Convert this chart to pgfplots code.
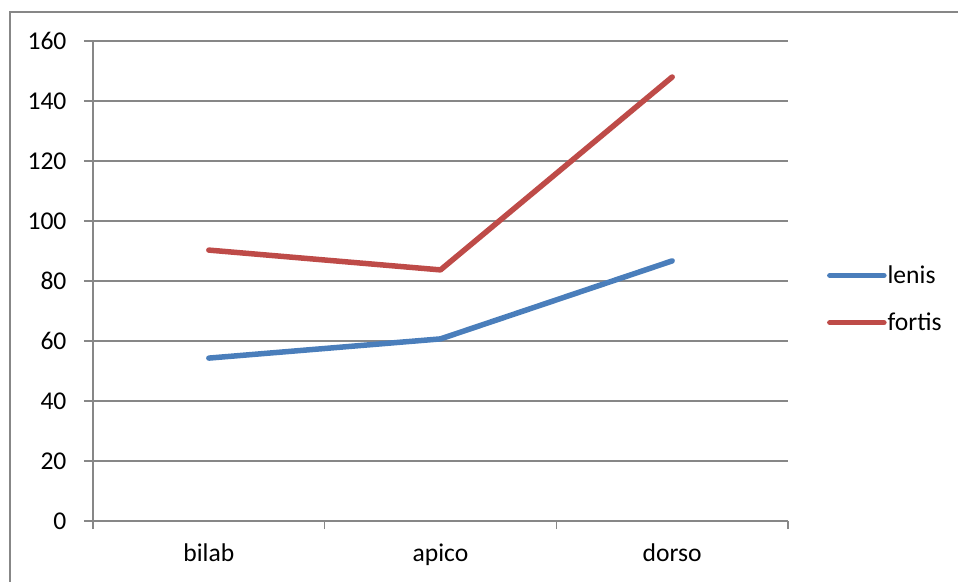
\documentclass[border=0pt]{standalone}
\usepackage{pgfplots}
\pgfplotsset{compat=1.18}
\usepackage{fontspec}
\setmainfont{Carlito}
\definecolor{gridgray}{HTML}{878787}
\definecolor{serblue}{HTML}{4A7EBB}
\definecolor{serred}{HTML}{BE4B48}
\begin{document}
\begin{tikzpicture}
\useasboundingbox (0pt,0pt) rectangle (958pt,581pt);
\draw[gridgray, line width=2pt] (10pt,-20pt) -- (10pt,569pt) -- (980pt,569pt);
\begin{axis}[
  at={(93pt,60pt)}, anchor=south west,
  scale only axis, width=695pt, height=480pt,
  xmin=-0.5, xmax=2.5, ymin=0, ymax=160,
  axis lines=left, axis line style={-, gridgray, line width=1.3pt},
  xtick={0,1,2}, xticklabels={bilab,apico,dorso},
  major x tick style={draw=none},
  minor xtick={-0.5,0.5,1.5,2.5},
  minor x tick style={gridgray, line width=1.3pt},
  minor tick length=8pt,
  ytick={0,20,...,160},
  major tick length=9pt,
  y tick style={gridgray, line width=1.3pt},
  tick align=outside,
  ymajorgrids, grid style={gridgray, line width=1.3pt},
  /pgf/number format/assume math mode=true,
  tick label style={font=\fontsize{25.6}{30}\selectfont, text=black},
  yticklabel style={xshift=-14pt},
  xticklabel style={yshift=-10pt},
  legend style={draw=none, fill=none, at={(1.056,0.4625)}, anchor=west, inner sep=0pt,
    font=\fontsize{25.6}{30}\selectfont, row sep=26pt, nodes={inner sep=1pt}},
  legend cell align=left,
  legend image code/.code={\draw[#1, line cap=round] (0pt,0pt) -- (54pt,0pt);},
]
\addplot[serblue, line width=5.5pt, line cap=round, line join=round] coordinates {(0,54.3) (1,60.7) (2,86.7)};
\addlegendentry{lenis}
\addplot[serred, line width=5.5pt, line cap=round, line join=round] coordinates {(0,90.3) (1,83.7) (2,148)};
\addlegendentry{fortis}
\end{axis}
\end{tikzpicture}
\end{document}
